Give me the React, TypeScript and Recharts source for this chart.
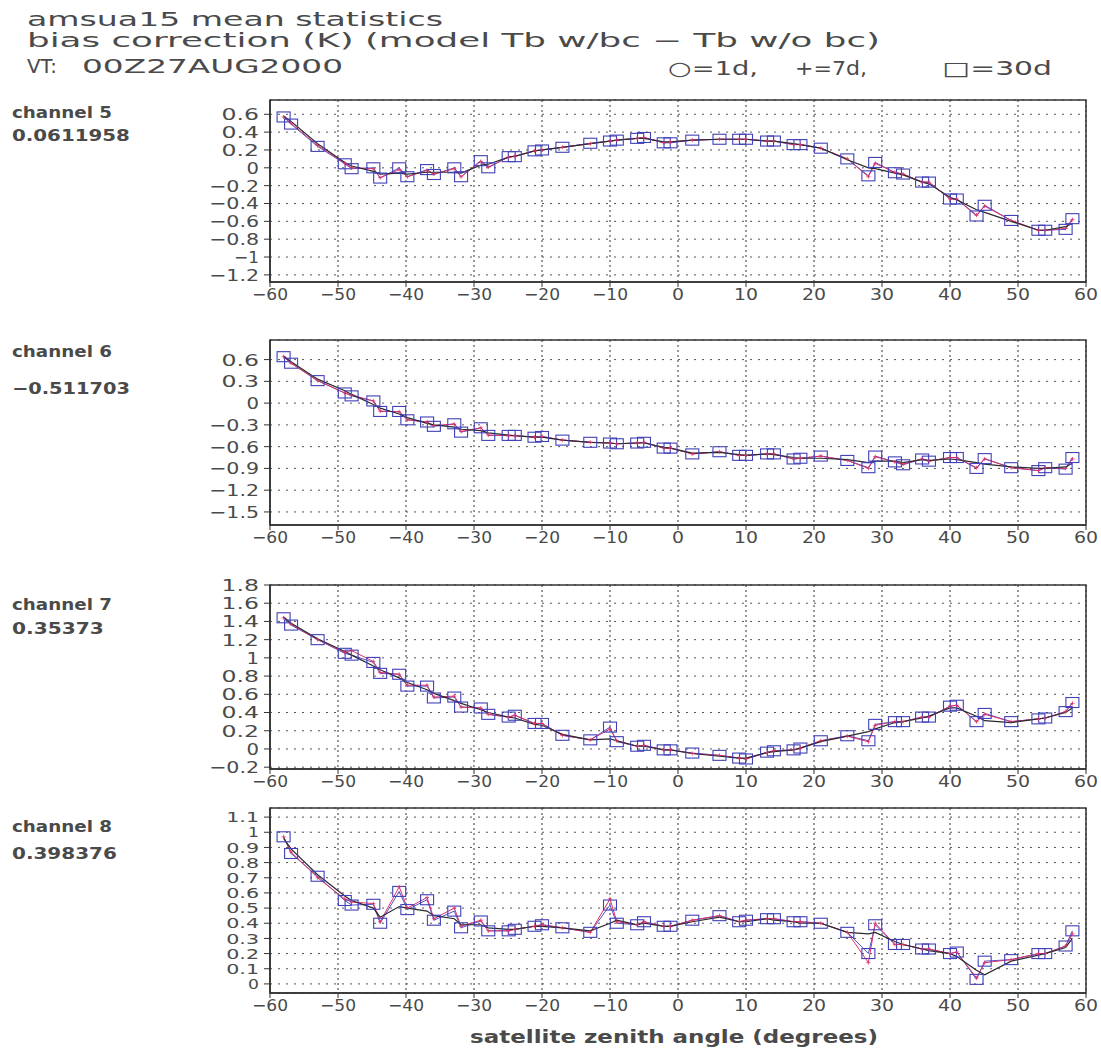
import React from 'react';
import { LineChart, Line, XAxis, YAxis, CartesianGrid, ReferenceArea } from 'recharts';

// satellite zenith angle of each bin (degrees)
const angles = [
  -58, -56.9, -53, -49, -48, -44.8, -43.8, -41, -39.8, -36.9, -35.9, -32.9, -31.9,
  -29, -27.9, -24.9, -24, -21.1, -20, -17, -12.9, -10, -9, -6, -5, -2.1,
  -1.1, 2.1, 6.1, 9, 10, 13.1, 14.1, 17, 18, 21, 24.9, 28, 29,
  31.9, 33.1, 35.9, 36.9, 40, 41, 43.9, 45.1, 49, 53, 54, 57, 58,
];

// channel 5
const ch5_1d = [
  0.58, 0.52, 0.27, 0.06, 0.02, -0.04, -0.07, -0.06, -0.07, -0.05, -0.05, -0.05, -0.06,
  0.03, 0.04, 0.12, 0.13, 0.19, 0.2, 0.23, 0.27, 0.3, 0.31, 0.33, 0.33, 0.29,
  0.29, 0.31, 0.32, 0.32, 0.32, 0.3, 0.3, 0.27, 0.26, 0.22, 0.09, 0.0, -0.01,
  -0.06, -0.08, -0.16, -0.18, -0.33, -0.36, -0.47, -0.5, -0.6, -0.7, -0.7, -0.66, -0.62,
];
const ch5_7d = [
  0.57, 0.5, 0.25, 0.05, 0.0, -0.01, -0.11, -0.02, -0.1, -0.03, -0.07, -0.01, -0.1,
  0.07, 0.01, 0.12, 0.13, 0.19, 0.2, 0.23, 0.27, 0.3, 0.31, 0.33, 0.34, 0.28,
  0.29, 0.31, 0.32, 0.32, 0.32, 0.3, 0.3, 0.26, 0.26, 0.22, 0.1, -0.1, 0.05,
  -0.05, -0.07, -0.16, -0.16, -0.35, -0.35, -0.53, -0.43, -0.59, -0.7, -0.7, -0.68, -0.58,
];
const ch5_30d = [
  0.57, 0.49, 0.24, 0.045, -0.01, 0.0, -0.115, 0.0, -0.1, -0.02, -0.075, 0.0, -0.1,
  0.08, 0.0, 0.125, 0.125, 0.19, 0.2, 0.23, 0.275, 0.3, 0.31, 0.33, 0.34, 0.28,
  0.28, 0.31, 0.32, 0.32, 0.32, 0.3, 0.3, 0.26, 0.26, 0.22, 0.1, -0.09, 0.06,
  -0.055, -0.07, -0.16, -0.16, -0.35, -0.35, -0.54, -0.42, -0.59, -0.7, -0.7, -0.69, -0.57,
];

// channel 6
const ch6_1d = [
  0.65, 0.57, 0.33, 0.17, 0.12, -0.02, -0.07, -0.15, -0.2, -0.28, -0.3, -0.33, -0.36,
  -0.38, -0.41, -0.44, -0.45, -0.47, -0.47, -0.51, -0.54, -0.55, -0.56, -0.55, -0.55, -0.61,
  -0.62, -0.69, -0.68, -0.71, -0.72, -0.7, -0.71, -0.75, -0.76, -0.76, -0.78, -0.82, -0.8,
  -0.8, -0.82, -0.78, -0.79, -0.77, -0.78, -0.82, -0.84, -0.88, -0.9, -0.9, -0.88, -0.83,
];
const ch6_7d = [
  0.64, 0.55, 0.31, 0.14, 0.11, 0.03, -0.11, -0.12, -0.23, -0.26, -0.31, -0.29, -0.39,
  -0.34, -0.44, -0.45, -0.45, -0.47, -0.46, -0.51, -0.54, -0.55, -0.56, -0.55, -0.54, -0.62,
  -0.62, -0.7, -0.67, -0.72, -0.72, -0.7, -0.7, -0.77, -0.76, -0.73, -0.79, -0.9, -0.74,
  -0.81, -0.84, -0.77, -0.8, -0.75, -0.75, -0.89, -0.77, -0.89, -0.93, -0.89, -0.9, -0.77,
];
const ch6_30d = [
  0.64, 0.55, 0.31, 0.14, 0.1, 0.03, -0.115, -0.115, -0.23, -0.26, -0.32, -0.285, -0.4,
  -0.34, -0.445, -0.445, -0.445, -0.47, -0.46, -0.51, -0.54, -0.55, -0.56, -0.55, -0.54, -0.62,
  -0.62, -0.7, -0.67, -0.72, -0.72, -0.7, -0.7, -0.77, -0.76, -0.73, -0.79, -0.89, -0.73,
  -0.81, -0.85, -0.77, -0.8, -0.75, -0.75, -0.9, -0.765, -0.89, -0.93, -0.89, -0.91, -0.75,
];

// channel 7
const ch7_1d = [
  1.45, 1.38, 1.21, 1.07, 1.03, 0.91, 0.87, 0.78, 0.73, 0.65, 0.61, 0.53, 0.5,
  0.43, 0.4, 0.35, 0.34, 0.27, 0.26, 0.16, 0.1, 0.11, 0.09, 0.03, 0.03, -0.01,
  -0.01, -0.05, -0.08, -0.1, -0.1, -0.04, -0.03, -0.01, 0.01, 0.08, 0.14, 0.19, 0.22,
  0.29, 0.3, 0.34, 0.36, 0.45, 0.45, 0.36, 0.31, 0.29, 0.33, 0.34, 0.4, 0.45,
];
const ch7_7d = [
  1.44, 1.37, 1.2, 1.06, 1.08, 0.96, 0.84, 0.82, 0.7, 0.7, 0.57, 0.58, 0.46,
  0.45, 0.38, 0.35, 0.37, 0.28, 0.28, 0.15, 0.1, 0.22, 0.09, 0.03, 0.04, -0.01,
  -0.01, -0.05, -0.07, -0.1, -0.11, -0.04, -0.02, -0.01, 0.01, 0.09, 0.14, 0.08, 0.26,
  0.3, 0.3, 0.35, 0.35, 0.47, 0.48, 0.3, 0.38, 0.3, 0.33, 0.34, 0.41, 0.5,
];
const ch7_30d = [
  1.44, 1.36, 1.2, 1.05, 1.03, 0.95, 0.83, 0.82, 0.69, 0.69, 0.56, 0.57, 0.46,
  0.45, 0.38, 0.35, 0.37, 0.28, 0.28, 0.15, 0.1, 0.24, 0.08, 0.03, 0.04, -0.01,
  -0.01, -0.045, -0.07, -0.1, -0.11, -0.035, -0.02, -0.01, 0.01, 0.09, 0.145, 0.09, 0.27,
  0.3, 0.3, 0.35, 0.35, 0.47, 0.48, 0.3, 0.39, 0.3, 0.33, 0.34, 0.41, 0.51,
];

// channel 8
const ch8_1d = [
  0.96, 0.89, 0.72, 0.58, 0.55, 0.5, 0.44, 0.51, 0.5, 0.48, 0.45, 0.43, 0.39,
  0.39, 0.37, 0.36, 0.36, 0.38, 0.38, 0.37, 0.35, 0.4, 0.42, 0.39, 0.4, 0.38,
  0.38, 0.41, 0.44, 0.41, 0.41, 0.43, 0.42, 0.41, 0.4, 0.4, 0.34, 0.33, 0.34,
  0.28, 0.26, 0.23, 0.22, 0.2, 0.18, 0.09, 0.06, 0.15, 0.19, 0.2, 0.24, 0.3,
];
const ch8_7d = [
  0.97, 0.87, 0.7, 0.56, 0.54, 0.53, 0.41, 0.64, 0.5, 0.57, 0.43, 0.5, 0.38,
  0.42, 0.35, 0.35, 0.36, 0.38, 0.39, 0.37, 0.34, 0.56, 0.41, 0.39, 0.41, 0.38,
  0.38, 0.42, 0.45, 0.41, 0.42, 0.43, 0.43, 0.41, 0.41, 0.4, 0.34, 0.14, 0.4,
  0.26, 0.26, 0.23, 0.23, 0.2, 0.21, 0.04, 0.14, 0.16, 0.2, 0.2, 0.25, 0.33,
];
const ch8_30d = [
  0.97, 0.86, 0.71, 0.55, 0.52, 0.525, 0.4, 0.61, 0.49, 0.555, 0.42, 0.48, 0.37,
  0.415, 0.35, 0.35, 0.36, 0.38, 0.39, 0.37, 0.34, 0.52, 0.4, 0.39, 0.41, 0.38,
  0.38, 0.42, 0.45, 0.41, 0.42, 0.43, 0.43, 0.41, 0.41, 0.4, 0.34, 0.2, 0.39,
  0.26, 0.26, 0.23, 0.23, 0.2, 0.21, 0.03, 0.15, 0.16, 0.2, 0.2, 0.25, 0.35,
];

const xTicks = [-60, -50, -40, -30, -20, -10, 0, 10, 20, 30, 40, 50, 60];
const ch5Ticks = [0.6, 0.4, 0.2, 0, -0.2, -0.4, -0.6, -0.8, -1, -1.2];
const ch6Ticks = [0.6, 0.3, 0, -0.3, -0.6, -0.9, -1.2, -1.5];
const ch7Ticks = [1.8, 1.6, 1.4, 1.2, 1, 0.8, 0.6, 0.4, 0.2, 0, -0.2];
const ch8Ticks = [1.1, 1, 0.9, 0.8, 0.7, 0.6, 0.5, 0.4, 0.3, 0.2, 0.1, 0];

const titleLines = [
  'amsua15 mean statistics',
  'bias correction (K) (model Tb w/bc \u2212 Tb w/o bc)',
];
const channelNames = ['channel 5', 'channel 6', 'channel 7', 'channel 8'];
const channelMeans = ['0.0611958', '\u22120.511703', '0.35373', '0.398376'];

const FONT = '"DejaVu Sans", sans-serif';
const INK = '#4a4a4a';
const fmt = (v: number) => String(v).replace('-', '\u2212');

const YTick = ({ x, y, payload, size = 16 }: any) => {
  const s = fmt(payload.value);
  return (
    <text x={x - 3} y={y + size * 0.37} textAnchor="end" fontFamily={FONT} fontSize={size} fill={INK}
      textLength={s.length * size * 0.78} lengthAdjust="spacingAndGlyphs">{s}</text>
  );
};

const XTick = ({ x, y, payload }: any) => {
  const s = fmt(payload.value);
  return (
    <text x={x} y={y + 11} textAnchor="middle" fontFamily={FONT} fontSize={16} fill={INK}
      textLength={s.length * 12} lengthAdjust="spacingAndGlyphs">{s}</text>
  );
};

const squareDot = (p: any) => {
  if (p.cx == null || p.cy == null) return <g key={p.index} />;
  return <rect key={p.index} x={p.cx - 6.5} y={p.cy - 5} width={13} height={10} fill="none" stroke="#4040b8" strokeWidth={1.1} />;
};

const plusDot = (p: any) => {
  if (p.cx == null || p.cy == null) return <g key={p.index} />;
  return <path key={p.index} d={`M${p.cx - 2},${p.cy}h4M${p.cx},${p.cy - 2}v4`} stroke="#e0306a" strokeWidth={0.8} />;
};

function Panel({ top, plotH, domain, yTicks, d1, d7, d30, tickSize = 16 }: any) {
  const data = angles.map((x, i) => ({ x, d1: d1[i], d7: d7[i], d30: d30[i] }));
  return (
    <div style={{ position: 'absolute', left: 0, top: top - 10 }}>
      <LineChart width={1101} height={plotH + 50} data={data} margin={{ top: 10, right: 15, left: 0, bottom: 0 }}>
        <CartesianGrid horizontal={false} stroke="#333" strokeDasharray="2 3" />
        <CartesianGrid vertical={false} stroke="#555" strokeDasharray="2 6" />
        <XAxis dataKey="x" type="number" domain={[-60, 60]} ticks={xTicks} interval={0} height={40}
          tick={<XTick />} tickSize={5} axisLine={{ stroke: '#333', strokeWidth: 1.5 }} tickLine={{ stroke: '#333' }} allowDataOverflow />
        <YAxis type="number" domain={domain} ticks={yTicks} interval={0} width={270}
          tick={<YTick size={tickSize} />} tickSize={6} axisLine={{ stroke: '#333', strokeWidth: 1.5 }} tickLine={{ stroke: '#333' }} allowDataOverflow />
        <ReferenceArea x1={-60} x2={60} y1={domain[0]} y2={domain[1]} fill="none" stroke="#333" strokeWidth={1.5} />
        <Line dataKey="d30" stroke="#5050d0" strokeWidth={1} dot={squareDot} isAnimationActive={false} />
        <Line dataKey="d7" stroke="#e0306a" strokeWidth={1} dot={plusDot} isAnimationActive={false} />
        <Line dataKey="d1" stroke="#2a2a2a" strokeWidth={1.2} dot={false} isAnimationActive={false} />
      </LineChart>
    </div>
  );
}

export default function App() {
  const labelTops = [
    [118, 141], [357, 394], [610, 634], [832, 859],
  ];
  return (
    <div style={{ position: 'absolute', left: 0, top: 0, width: 1101, height: 1050, background: '#fff', overflow: 'hidden' }}>
      <Panel top={100} plotH={182} domain={[-1.28, 0.76]} yTicks={ch5Ticks} d1={ch5_1d} d7={ch5_7d} d30={ch5_30d} />
      <Panel top={340} plotH={185} domain={[-1.68, 0.87]} yTicks={ch6Ticks} d1={ch6_1d} d7={ch6_7d} d30={ch6_30d} />
      <Panel top={585} plotH={184} domain={[-0.22, 1.8]} yTicks={ch7Ticks} d1={ch7_1d} d7={ch7_7d} d30={ch7_30d} />
      <Panel top={808} plotH={185} domain={[-0.06, 1.16]} yTicks={ch8Ticks} d1={ch8_1d} d7={ch8_7d} d30={ch8_30d} tickSize={14} />
      <svg width={1101} height={1050} style={{ position: 'absolute', left: 0, top: 0, pointerEvents: 'none' }}>
        <g fontFamily={FONT} fill={INK} fontSize={19}>
          <text x={27} y={26} textLength={416} lengthAdjust="spacingAndGlyphs">{titleLines[0]}</text>
          <text x={27} y={47} textLength={853} lengthAdjust="spacingAndGlyphs">{titleLines[1]}</text>
          <text x={27} y={73} textLength={30} lengthAdjust="spacingAndGlyphs">VT:</text>
          <text x={82} y={73} textLength={261} lengthAdjust="spacingAndGlyphs">00Z27AUG2000</text>
          <text x={668} y={75} textLength={90} lengthAdjust="spacingAndGlyphs">{'\u25CB=1d,'}</text>
          <text x={795} y={75} textLength={72} lengthAdjust="spacingAndGlyphs">+=7d,</text>
          <text x={942} y={75} textLength={110} lengthAdjust="spacingAndGlyphs">{'\u25A1=30d'}</text>
        </g>
        <g fontFamily={FONT} fill={INK} fontSize={16} fontWeight="bold">
          {channelNames.map((n, i) => (
            <text key={n} x={12} y={labelTops[i][0]} textLength={100} lengthAdjust="spacingAndGlyphs">{n}</text>
          ))}
          {channelMeans.map((m, i) => (
            <text key={m} x={12} y={labelTops[i][1]} textLength={m.length * 13.1} lengthAdjust="spacingAndGlyphs">{m}</text>
          ))}
          <text x={470} y={1043} fontSize={17} textLength={408} lengthAdjust="spacingAndGlyphs">satellite zenith angle (degrees)</text>
        </g>
      </svg>
    </div>
  );
}
